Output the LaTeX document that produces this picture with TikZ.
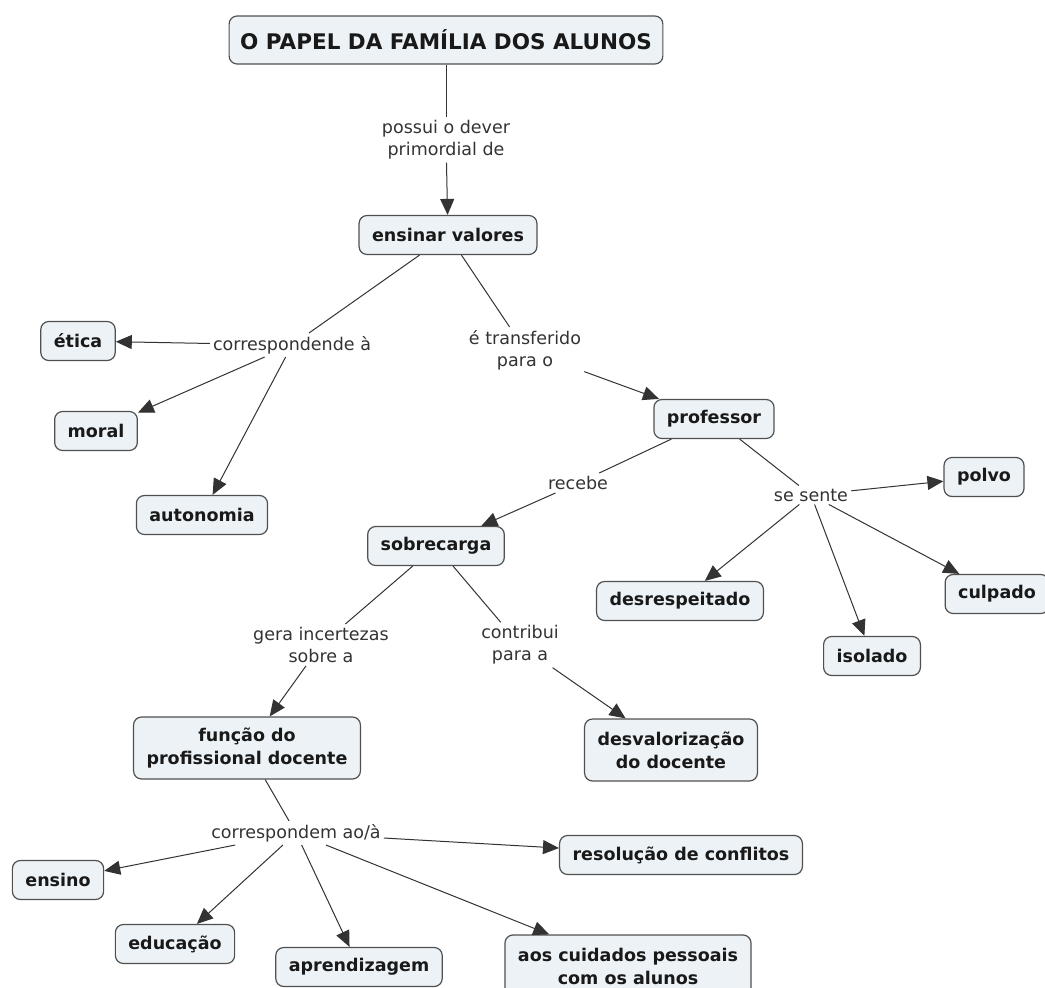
\documentclass[tikz,border=0pt]{standalone}
\usepackage{fontspec}
\setmainfont{DejaVu Sans}
\usetikzlibrary{arrows.meta}
\definecolor{conceptfill}{HTML}{ECF2F5}
\definecolor{conceptdraw}{HTML}{505050}
\definecolor{linkcol}{HTML}{333333}
\tikzset{
  concept/.style={draw=conceptdraw, fill=conceptfill, line width=1.2pt,
    rounded corners=8pt, font=\bfseries\fontsize{17.5}{23}\selectfont,
    text=black!90, align=center, inner xsep=13pt, inner ysep=6pt,
    minimum height=39pt},
  tallconcept/.style={concept, minimum height=62pt},
  linkphrase/.style={font=\fontsize{17.5}{22}\selectfont, text=linkcol,
    align=center, inner sep=3pt},
  link/.style={draw=linkcol, line width=1pt},
  linkarrow/.style={link, -{Triangle[length=16pt,width=14pt]}},
}
\begin{document}
\begin{tikzpicture}[x=1pt,y=-1pt]
\useasboundingbox (0,0) rectangle (1045,988);
\clip (0,0) rectangle (1045,988);
\fill[white] (0,0) rectangle (1045,988);

% concepts
\node[concept, font=\bfseries\fontsize{21.5}{26}\selectfont, minimum height=48pt, inner xsep=11pt] (familia) at (446,40) {O PAPEL DA FAMÍLIA DOS ALUNOS};
\node[concept] (valores) at (448,235) {ensinar valores};
\node[concept] (etica) at (78,341) {ética};
\node[concept] (moral) at (96,431) {moral};
\node[concept] (autonomia) at (202,515) {autonomia};
\node[concept] (professor) at (714,419) {professor};
\node[concept] (sobrecarga) at (436,546) {sobrecarga};
\node[concept] (polvo) at (984,477) {polvo};
\node[concept] (desrespeitado) at (680,601) {desrespeitado};
\node[concept] (culpado) at (997,594) {culpado};
\node[concept] (isolado) at (872,656) {isolado};
\node[tallconcept] (funcao) at (247,748) {função do\\profissional docente};
\node[tallconcept] (desvalor) at (671,750) {desvalorização\\do docente};
\node[concept] (conflitos) at (681,855) {resolução de conflitos};
\node[concept] (ensino) at (58,880) {ensino};
\node[concept] (educacao) at (175,944) {educação};
\node[concept] (aprendizagem) at (359,967) {aprendizagem};
\node[tallconcept] (cuidados) at (628,966) {aos cuidados pessoais\\com os alunos};

% linking phrases
\node[linkphrase] (possui) at (446,140) {possui o dever\\primordial de};
\node[linkphrase] (corresp1) at (292,345) {correspondende à};
\node[linkphrase] (transf) at (525,350) {é transferido\\para o};
\node[linkphrase] (recebe) at (578,483) {recebe};
\node[linkphrase] (sente) at (811,495) {se sente};
\node[linkphrase] (gera) at (321,645) {gera incertezas\\sobre a};
\node[linkphrase] (contribui) at (520,645) {contribui\\para a};
\node[linkphrase] (corresp2) at (296,833) {correspondem ao/à};

% connectors
\draw[link] (familia) -- (possui);
\draw[linkarrow] (possui) -- (valores);

\draw[link] (valores) -- (corresp1);
\draw[linkarrow] (corresp1) -- (etica);
\draw[linkarrow] (corresp1) -- (moral);
\draw[linkarrow] (corresp1) -- (autonomia);

\draw[link] (valores) -- (transf);
\draw[linkarrow] (transf) -- (professor);

\draw[link] (professor) -- (recebe);
\draw[linkarrow] (recebe) -- (sobrecarga);

\draw[link] (professor) -- (sente);
\draw[linkarrow] (sente) -- (polvo);
\draw[linkarrow] (sente) -- (desrespeitado);
\draw[linkarrow] (sente) -- (isolado);
\draw[linkarrow] (sente) -- (culpado);

\draw[link] (sobrecarga) -- (gera);
\draw[linkarrow] (gera) -- (funcao);
\draw[link] (sobrecarga) -- (contribui);
\draw[linkarrow] (contribui) -- (desvalor);

\draw[link] (funcao) -- (corresp2);
\draw[linkarrow] (corresp2) -- (ensino);
\draw[linkarrow] (corresp2) -- (educacao);
\draw[linkarrow] (corresp2) -- (aprendizagem);
\draw[linkarrow] (corresp2) -- (cuidados);
\draw[linkarrow] (corresp2) -- (conflitos);
\end{tikzpicture}
\end{document}
